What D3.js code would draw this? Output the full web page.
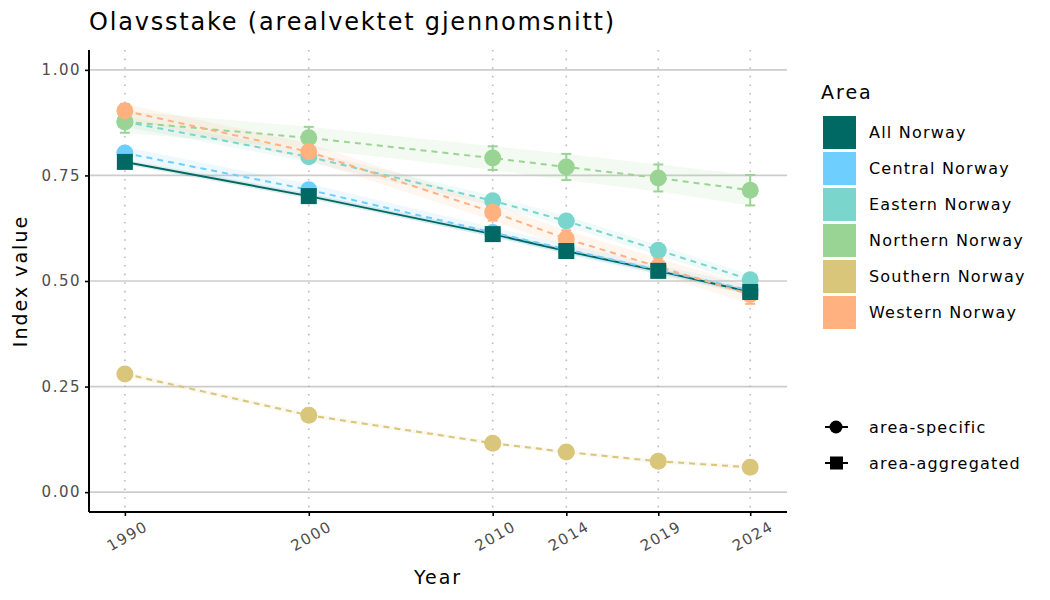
<!DOCTYPE html>
<html>
<head>
<meta charset="utf-8">
<script src="https://cdn.jsdelivr.net/npm/d3@7"></script>
<style>
body { margin: 0; background: #fff; font-family: "DejaVu Sans", sans-serif; }
</style>
</head>
<body>
<div id="chart"></div>
<script>
// chart data
var years = [1990, 2000, 2010, 2014, 2019, 2024];
var areas = ["All Norway", "Central Norway", "Eastern Norway", "Northern Norway", "Southern Norway", "Western Norway"];
var colors = ["#006964", "#6ECFFF", "#7AD6CD", "#9AD494", "#D9C67A", "#FFB180"];
var allNorway = [0.782, 0.701, 0.611, 0.571, 0.524, 0.474];
var central = [0.803, 0.716, 0.615, 0.575, 0.526, 0.478];
var eastern = [0.877, 0.794, 0.690, 0.642, 0.573, 0.503];
var northern = [0.877, 0.839, 0.791, 0.770, 0.744, 0.715];
var southern = [0.280, 0.182, 0.116, 0.095, 0.073, 0.059];
var western = [0.903, 0.806, 0.663, 0.600, 0.534, 0.468];
// half widths of the uncertainty
var allErr = [0.006, 0.006, 0.006, 0.006, 0.006, 0.006];
var centralErr = [0.014, 0.014, 0.012, 0.012, 0.012, 0.012];
var easternErr = [0.012, 0.012, 0.012, 0.012, 0.012, 0.012];
var northernErr = [0.026, 0.026, 0.028, 0.031, 0.032, 0.036];
var southernErr = [0.006, 0.006, 0.005, 0.005, 0.005, 0.005];
var westernErr = [0.016, 0.02, 0.02, 0.02, 0.02, 0.022];
var yTicks = [0, 0.25, 0.5, 0.75, 1];

var series = [
	{ name: "All Norway", values: allNorway, err: allErr, aggregated: true },
	{ name: "Central Norway", values: central, err: centralErr },
	{ name: "Eastern Norway", values: eastern, err: easternErr },
	{ name: "Northern Norway", values: northern, err: northernErr },
	{ name: "Southern Norway", values: southern, err: southernErr },
	{ name: "Western Norway", values: western, err: westernErr }
];

var W = 1050, H = 600;
var m = { left: 89, right: 787, top: 50, bottom: 512 };

var svg = d3.select("#chart").append("svg").attr("width", W).attr("height", H);

var x = d3.scaleLinear().domain([1988.05, 2026]).range([m.left, m.right]);
var y = d3.scaleLinear().domain([-0.047, 1.047]).range([m.bottom, m.top]);
var color = d3.scaleOrdinal().domain(areas).range(colors);

// grid
svg.append("g").selectAll("line").data(yTicks).enter().append("line")
	.attr("x1", m.left).attr("x2", m.right)
	.attr("y1", function(d) { return y(d); }).attr("y2", function(d) { return y(d); })
	.attr("stroke", "#cccccc").attr("stroke-width", 1.6);
svg.append("g").selectAll("line").data(years).enter().append("line")
	.attr("x1", function(d) { return x(d); }).attr("x2", function(d) { return x(d); })
	.attr("y1", m.top).attr("y2", m.bottom)
	.attr("stroke", "#bbbbbb").attr("stroke-width", 1.6).attr("stroke-dasharray", "1.6,7");

// ribbons
var area = d3.area()
	.x(function(d) { return x(d.year); })
	.y0(function(d) { return y(d.v - d.e); })
	.y1(function(d) { return y(d.v + d.e); });
var line = d3.line()
	.x(function(d) { return x(d.year); })
	.y(function(d) { return y(d.v); });

series.forEach(function(s) {
	s.points = years.map(function(yr, i) { return { year: yr, v: s.values[i], e: s.err[i] }; });
});

svg.append("g").selectAll("path").data(series).enter().append("path")
	.attr("d", function(s) { return area(s.points); })
	.attr("fill", function(s) { return color(s.name); })
	.attr("fill-opacity", 0.12);

// lines
svg.append("g").selectAll("path").data(series).enter().append("path")
	.attr("d", function(s) { return line(s.points); })
	.attr("fill", "none")
	.attr("stroke", function(s) { return color(s.name); })
	.attr("stroke-width", 2)
	.attr("stroke-dasharray", function(s) { return s.aggregated ? null : "6,5"; });

// error bars
series.forEach(function(s) {
	var g = svg.append("g").attr("stroke", color(s.name)).attr("stroke-width", 2);
	s.points.forEach(function(p) {
		if (y(p.v - p.e) - y(p.v + p.e) < 4) return;
		g.append("line").attr("x1", x(p.year)).attr("x2", x(p.year))
			.attr("y1", y(p.v - p.e)).attr("y2", y(p.v + p.e));
		[p.v - p.e, p.v + p.e].forEach(function(v) {
			g.append("line").attr("x1", x(p.year) - 5).attr("x2", x(p.year) + 5)
				.attr("y1", y(v)).attr("y2", y(v));
		});
	});
});

// points, circles first and squares on top
series.filter(function(s) { return !s.aggregated; }).concat(series.filter(function(s) { return s.aggregated; }))
	.forEach(function(s) {
	var g = svg.append("g").attr("fill", color(s.name));
	if (s.aggregated) {
		g.selectAll("rect").data(s.points).enter().append("rect")
			.attr("x", function(d) { return x(d.year) - 8; })
			.attr("y", function(d) { return y(d.v) - 8; })
			.attr("width", 16).attr("height", 16);
	} else {
		g.selectAll("circle").data(s.points).enter().append("circle")
			.attr("cx", function(d) { return x(d.year); })
			.attr("cy", function(d) { return y(d.v); })
			.attr("r", 8.5);
	}
});

// axes
var yAxis = svg.append("g").attr("transform", "translate(" + m.left + ",0)")
	.call(d3.axisLeft(y).tickValues(yTicks).tickFormat(d3.format(".2f")).tickSize(4).tickPadding(4));
var xAxis = svg.append("g").attr("transform", "translate(0," + m.bottom + ")")
	.call(d3.axisBottom(x).tickValues(years).tickFormat(d3.format("d")).tickSize(4).tickPadding(4));
[yAxis, xAxis].forEach(function(a) {
	a.select(".domain").attr("stroke", "#000").attr("stroke-width", 2);
	a.selectAll(".tick line").attr("stroke", "#000").attr("stroke-width", 1.6);
	a.selectAll("text").attr("fill", "#4d4d4d").style("font-size", "15px")
		.style("letter-spacing", "1.5px").style("font-family", "DejaVu Sans");
});
yAxis.select(".domain").attr("d", "M0," + m.bottom + "V" + m.top);
xAxis.select(".domain").attr("d", "M" + m.left + ",0H" + m.right);
xAxis.selectAll("text")
	.attr("text-anchor", "middle")
	.attr("y", 0)
	.attr("dy", "0.35em")
	.attr("transform", "translate(2,24) rotate(-30)");

// titles
svg.append("text").attr("x", 89).attr("y", 30).text("Olavsstake (arealvektet gjennomsnitt)")
	.style("font-size", "24px").style("letter-spacing", "1.8px").attr("fill", "#000");
svg.append("text").attr("x", 438).attr("y", 584).attr("text-anchor", "middle").text("Year")
	.style("font-size", "19px").style("letter-spacing", "2px");
svg.append("text").attr("transform", "translate(27,281) rotate(-90)").attr("text-anchor", "middle")
	.text("Index value").style("font-size", "19px").style("letter-spacing", "2px");

// legend for colour
var leg = svg.append("g").attr("transform", "translate(821,0)");
leg.append("text").attr("x", 0).attr("y", 99).text("Area").style("font-size", "19px").style("letter-spacing", "2px");
var items = leg.selectAll("g.item").data(areas).enter().append("g")
	.attr("transform", function(d, i) { return "translate(2," + (116 + i * 36) + ")"; });
items.append("rect").attr("width", 33).attr("height", 33).attr("fill", function(d) { return color(d); });
items.append("text").attr("x", 46).attr("y", 22).text(function(d) { return d; })
	.style("font-size", "16px").style("letter-spacing", "1.2px");

// legend for shape
var shapes = ["area-specific", "area-aggregated"];
var sl = svg.append("g").attr("transform", "translate(821,0)").selectAll("g").data(shapes).enter().append("g")
	.attr("transform", function(d, i) { return "translate(0," + (427 + i * 36) + ")"; });
sl.append("line").attr("x1", 4).attr("x2", 27).attr("stroke", "#000").attr("stroke-width", 2);
sl.each(function(d) {
	var g = d3.select(this);
	if (d === "area-specific") g.append("circle").attr("cx", 15).attr("r", 6.5);
	else g.append("rect").attr("x", 9).attr("y", -6.5).attr("width", 13).attr("height", 13);
});
sl.append("text").attr("x", 48).attr("y", 6).text(function(d) { return d; })
	.style("font-size", "16px").style("letter-spacing", "1.2px");
</script>
</body>
</html>
